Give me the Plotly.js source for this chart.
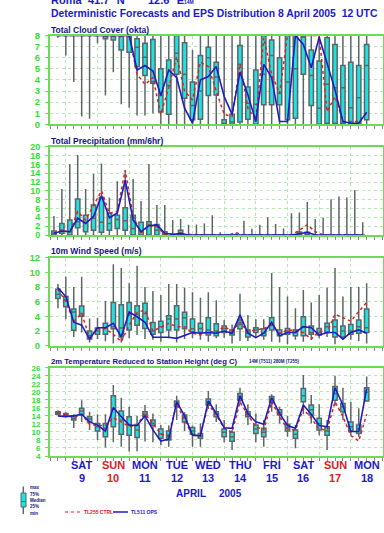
<!DOCTYPE html>
<html><head><meta charset="utf-8">
<script src="https://cdn.plot.ly/plotly-3.0.1.min.js"></script>
<style>html,body{margin:0;padding:0;background:#fff}#c{width:384px;height:533px}</style>
</head><body><div id="c"></div>
<script>
// ---- DATA (steps +6h .. +240h from 8 April 2005 12 UTC) ----
const cloudMax = [8,8,8,8,8,8,8,8,8,8, 8,8,8,8,8,8,8,6.7,8,8, 8,8,8,8,8,8,8,8,8,8, 8,8,8,8,8,8,8,8,8,8];
const cloudQ3  = [8,8,8,8,8,8,8,8,8,8, 7.7,7.3,7.65,5.0,5.8,8,7.35,3.8,6.2,6.95, 5.6,0.4,0.9,7.1,3.35,4.9,8,7.6,6.0,8, 8,8,6.7,5.7,7.8,7.2,5.3,5.6,5.3,7.2];
const cloudMed = [8,8,8,8,8,8,8,8,8,8, 6.95,6.05,3.85,2.6,3.5,6.4,4.5,1.7,3.0,6.0, 4.25,0,0.2,5.4,1.9,1.8,4.5,6.2,2.8,3.8, 5.0,7.85,4.4,1.45,3.6,3.3,3.3,1.5,2.4,5.3];
const cloudQ1  = [8,8,8,8,8,8,7.7,7.6,6.7,6.5, 5.2,4.4,3.7,1.1,0.9,4.5,2.35,0.4,0.45,2.6, 2.65,0,0,0.2,0.45,0,1.75,1.75,1.75,0.4, 0.55,4.5,1.7,0,0.1,0.1,0.1,0.1,0.1,0.4];
const cloudMin = [7.8,6.2,3.8,0.7,0.5,7.3,2.6,4.7,1.8,1.5, 0.8,0.8,1.0,0,0,0,0,0,0,0, 0,0,0,0,0,0,0,0,0,0, 0,0,0,0,0,0,0,0,0,0];
const cloudOps = [8,8,8,8,8,8,8,8,8,8, 4.9,5.3,4.8,2.6,4.9,4.2,1.45,0.1,4.0,4.3, 5.2,2.5,0.9,4.7,2.65,0.25,5.4,4.2,0.25,0.25, 8,7.2,5.1,7.85,5.5,3.1,0.25,0.1,0.1,1.1];
const cloudCtrl= [8,8,8,8,8,8,8,8,8,8, 4.5,3.6,4.2,0.9,3.3,6.1,3.0,2.2,5.6,5.2, 3.0,0.9,0.7,5.4,1.45,0.4,7.8,4.5,2.8,8, 8,8,8,8,1.15,2.5,0.25,0.25,0.25,1.0];

const precMax = [4.3,10.4,16,18.1,10.4,13.8,16.2,8.5,12.2,14.5, 12.7,7.7,16.1,6.8,6.8,3.4,3.6,2.3,2.4,2.6, 4.5,0.6,0,0.5,3.2,1.4,2.3,4.0,2.5,1.5, 4.9,5.1,7.5,3.6,3.9,8.1,8.7,8.5,10.2,2.9];
const precQ3  = [0.9,2.6,3.4,8.15,4.5,6.8,8.5,4.9,4.5,6.2, 4.5,2.9,3.0,2.4,0.75,0,1.1,0,0,0, 0,0,0,0,0,0,0,0,0,0, 0,0.7,0.6,0,0,0,0,0,0,0];
const precMed = [0.4,1.1,0.75,3.0,2.9,3.8,2.9,2.6,3.5,3.2, 1.5,0.75,2.4,1.1,0.15,0,0.5,0,0,0, 0,0,0,0,0,0,0,0,0,0, 0,0.2,0.1,0,0,0,0,0,0,0];
const precQ1  = [0,0.4,0,1.65,0.75,1.1,0.6,1.1,1.5,1.1, 0,0,0,0,0,0,0.15,0,0,0, 0,0,0,0,0,0,0,0,0,0, 0,0,0,0,0,0,0,0,0,0];
const precMin = [0,0,0,0,0,0,0,0,0,0, 0,0,0,0,0,0,0,0,0,0, 0,0,0,0,0,0,0,0,0,0, 0,0,0,0,0,0,0,0,0,0];
const precOps = [0.4,0.9,0.75,3.8,2.6,4.2,8.9,3.9,5.0,12.4, 3.4,0.75,2.1,2.3,0.4,0.15,0.3,0,0,0, 0,0,0,0,0,0,0,0,0,0, 0,0.3,0.6,0,0,0,0,0,0,0];
const precCtrl= [0.4,1.1,0.6,5.3,3.4,6.8,10.0,4.9,5.4,14.7, 4.2,0.5,2.1,1.9,0.15,0.15,0.15,0,0,0, 0,0,0,0.5,0,0,0,0,0,0, 0,1.1,2.3,0.75,0,0,0,0,0,0];

const windMax = [8.4,9.4,8.0,9.4,3.7,3.8,6.1,11.1,10.6,8.5, 10.9,8.0,7.45,6.9,8.4,8.4,7.9,7.3,6.55,7.3, 6.2,3.5,2.9,7.1,4.2,3.6,3.6,9.9,8.0,6.7, 5.1,7.6,5.9,6.9,7.9,10.6,6.7,8.0,8.0,8.5];
const windQ3  = [7.7,6.7,5.0,5.4,2.0,2.4,3.05,5.9,5.6,5.9, 5.45,5.8,3.15,3.35,4.1,5.45,4.55,3.65,3.05,3.8, 3.0,2.7,2.15,3.5,2.15,2.45,2.3,3.8,2.15,2.35, 2.15,3.95,2.7,2.35,3.05,3.5,2.7,2.9,3.5,5.0];
const windMed = [7.0,6.2,4.6,4.4,1.4,2.0,2.4,2.6,2.4,4.2, 4.3,4.4,2.0,2.6,3.65,3.65,3.8,2.3,2.35,2.15, 2.0,2.35,1.8,2.9,1.7,2.15,1.7,2.8,1.7,2.0, 1.8,2.6,1.8,1.8,2.6,2.6,2.0,2.0,2.6,2.45];
const windQ1  = [6.45,5.3,2.1,4.0,0.9,1.55,1.55,2.3,1.2,2.15, 2.8,2.35,1.55,1.8,2.15,2.15,2.3,1.9,1.8,1.45, 1.35,1.8,1.45,2.3,1.2,1.8,1.35,2.15,1.35,1.55, 1.35,1.35,1.55,1.45,1.8,1.2,1.2,1.55,1.7,1.8];
const windMin = [5.1,3.6,1.2,1.8,0.45,0.9,0.6,0.3,0.45,1.0, 1.45,0.9,0.8,0.55,1.0,0.45,0.9,1.0,0.8,0.55, 1.0,1.1,0.3,0.65,0.65,1.2,0.8,0.55,0.45,0.2, 0.8,0.55,0.8,1.0,1.2,0.2,0.8,0.8,0.65,0.3];
const windOps = [7.9,6.7,3.2,2.8,0.9,2.45,2.45,3.05,1.2,4.6, 3.95,3.2,1.15,1.15,1.15,1.0,1.45,1.8,1.7,1.8, 1.7,2.0,1.7,4.2,1.7,1.1,1.7,3.2,1.35,1.8, 1.8,2.6,2.45,1.45,1.8,1.8,0.9,1.8,2.15,1.7];
const windCtrl= [7.7,6.0,3.3,4.4,1.1,2.3,2.3,1.55,0.55,2.8, 4.55,4.85,2.0,2.5,3.05,2.6,2.6,1.7,1.45,2.0, 1.8,2.6,2.0,3.2,1.9,2.15,2.35,2.8,1.7,2.1, 2.1,1.8,0.9,2.0,1.8,4.3,3.8,3.35,4.65,5.9];

const tempMax = [15.4,14.9,14.4,17.9,15.0,14.4,14.4,21.7,18.5,16.3, 14.0,16.7,14.6,11.7,11.6,19.0,14.9,11.6,12.1,20.2, 16.9,13.0,10.5,21.0,16.9,14.6,13.0,19.4,16.3,14.0, 11.7,24.2,19.2,16.9,13.0,24.0,21.0,17.5,15.9,23.8];
const tempQ3  = [15.0,14.6,14.0,15.9,13.8,12.1,12.1,19.0,15.2,13.8, 11.7,15.0,13.0,10.7,10.2,17.7,14.2,11.1,9.6,18.2, 15.0,10.7,9.9,19.6,15.0,11.7,10.9,18.8,15.5,11.9, 10.5,20.8,16.7,13.4,11.3,21.3,17.1,12.5,11.7,21.0];
const tempMed = [14.7,14.3,13.4,15.2,13.2,11.3,10.9,15.7,13.0,11.7, 10.5,14.4,12.1,9.5,8.8,16.9,13.5,10.2,9.0,17.5, 14.4,9.9,8.8,18.8,14.4,10.7,9.9,18.2,14.8,11.1, 9.4,19.0,15.5,12.1,10.2,19.6,16.3,11.3,10.7,19.9];
const tempQ1  = [14.4,14.0,13.0,14.2,12.5,10.2,8.8,11.3,9.4,9.2, 8.6,13.8,11.6,8.4,8.0,16.3,12.5,9.4,8.4,16.7, 13.8,8.8,7.7,17.9,13.8,9.6,8.8,17.4,14.2,10.2, 8.4,17.5,14.2,10.5,9.2,17.9,15.0,10.2,9.6,17.7];
const tempMin = [14.2,13.8,11.0,12.5,10.5,8.0,6.1,7.4,6.3,5.1, 5.2,7.6,7.4,6.7,6.3,13.0,10.2,6.3,6.3,15.7, 12.5,7.4,5.5,16.9,11.7,7.4,6.3,15.0,12.1,8.8, 5.9,14.4,12.1,9.2,5.5,16.5,13.0,9.2,8.8,17.5];
const tempOps = [14.0,13.8,14.0,14.4,12.5,11.7,10.2,16.1,13.8,11.7, 11.6,14.0,10.5,7.7,8.2,17.5,14.0,9.2,9.0,17.7, 14.6,11.05,10.9,19.0,14.6,12.5,11.9,18.5,14.6,11.6, 10.9,16.7,14.4,11.6,11.3,21.0,16.7,10.1,10.1,20.8];
const tempCtrl= [14.9,14.4,13.5,14.4,11.9,11.6,11.6,13.5,12.5,11.3, 11.7,14.6,12.1,9.4,9.1,17.0,13.0,9.1,9.2,16.9, 14.2,10.9,9.9,17.5,14.2,11.3,10.5,17.5,13.8,10.7, 10.5,15.7,13.4,10.7,10.5,17.5,13.8,9.1,7.7,14.4];

const dayNames = ['SAT','SUN','MON','TUE','WED','THU','FRI','SAT','SUN','MON'];
const dayNums  = ['9','10','11','12','13','14','15','16','17','18'];
const dayHours = [24,48,72,96,120,144,168,192,216,240];

// ---- drawing ----
const W=384,H=533;
const px=x=>x/W, py=y=>1-y/H;
const steps = cloudMax.map((_,k)=>6*(k+1));
const precSteps = steps.map(h=>h-3);
const GREEN='#33dd33', FRAME='#6ddc55', GRID='#b4e8b4', NAVY='#14148c', BLUE='#1a1acc', RED='#e02020';
const FONT='Liberation Sans, Arial, sans-serif';

function boxTrace(xs,mn,q1,md,q3,mx,ax){
  return {type:'box', x:xs, lowerfence:mn, q1:q1, median:md, q3:q3, upperfence:mx,
    xaxis:'x'+ax, yaxis:'y'+ax, fillcolor:'#1ee2e2', line:{color:'#5d6666',width:1.5},
    whiskerwidth:0, width:3.3, boxpoints:false, hoverinfo:'skip', showlegend:false};
}
function lineTrace(xs,ys,ax,ctrl){
  return {type:'scatter', mode:'lines', x:xs, y:ys, xaxis:'x'+ax, yaxis:'y'+ax,
    line: ctrl?{color:RED,width:1.5,dash:'dot'}:{color:'#1c1cc8',width:1.6},
    hoverinfo:'skip', showlegend:false};
}
const data=[
  boxTrace(steps,cloudMin,cloudQ1,cloudMed,cloudQ3,cloudMax,''),
  lineTrace(steps,cloudCtrl,'',true), lineTrace(steps,cloudOps,'',false),
  boxTrace(precSteps,precMin,precQ1,precMed,precQ3,precMax,'2'),
  lineTrace(precSteps,precCtrl,'2',true), lineTrace(precSteps,precOps,'2',false),
  boxTrace(steps,windMin,windQ1,windMed,windQ3,windMax,'3'),
  lineTrace(steps,windCtrl,'3',true), lineTrace(steps,windOps,'3',false),
  boxTrace(steps,tempMin,tempQ1,tempMed,tempQ3,tempMax,'4'),
  lineTrace(steps,tempCtrl,'4',true), lineTrace(steps,tempOps,'4',false),
];

const xdom=[px(50),px(382.5)];
function xax(anchor){
  return {domain:xdom, anchor:anchor, range:[0,252], tick0:12, dtick:24, showgrid:true,
    gridcolor:GRID, griddash:'dot', gridwidth:1, showticklabels:false, ticks:'outside', ticklen:3,
    tickcolor:'#888', showline:true, linecolor:FRAME, linewidth:2, mirror:true, zeroline:false,
    minor:{dtick:6, ticks:'outside', ticklen:3, tickcolor:'#888', showgrid:false}};
}
function yax(anchor,top,bot,r,dt,fs){
  return {domain:[py(bot),py(top)], anchor:anchor, range:r, dtick:dt, tick0:r[0], showgrid:true,
    gridcolor:GRID, griddash:'dot', gridwidth:1, ticks:'outside', ticklen:3, tickcolor:FRAME,
    ticklabelstandoff:3,
    tickfont:{family:FONT,size:fs,color:GREEN,weight:'bold'},
    showline:true, linecolor:FRAME, linewidth:2, mirror:true, zeroline:false, fixedrange:true};
}
const ann=[];
function T(text,x,y,size,color,xanchor,opts){
  ann.push(Object.assign({text:text,x:x,y:y,xref:'paper',yref:'paper',xanchor:xanchor||'left',yanchor:'middle',
    showarrow:false,font:{family:FONT,size:size,color:color,weight:'bold'}},opts||{}));
}
T('Roma',px(49),py(0),11,BLUE); T('41.7° N',px(86),py(0),11,BLUE); T('12.6° E',px(146),py(0),11,BLUE);
T('14M',px(182),py(2),5,BLUE);
T('Deterministic Forecasts and EPS Distribution 8 April 2005\u00a0 12 UTC',px(49),py(14),10.4,BLUE);
T('Total Cloud Cover (okta)',px(49),py(30),8.5,NAVY);
T('Total Precipitation (mm/6hr)',px(49),py(141),8.5,NAVY);
T('10m Wind Speed (m/s)',px(49),py(251),8.5,NAVY);
T('2m Temperature Reduced to Station Height (deg C)',px(49),py(361.5),7.7,NAVY);
T('14M (T511) 280M (T255)',px(247),py(362),4.5,NAVY);
dayHours.forEach((h,k)=>{
  const c = dayNames[k]==='SUN'?RED:BLUE;
  ann.push({text:dayNames[k],x:h,xref:'x4',y:py(465),yref:'paper',showarrow:false,xanchor:'center',yanchor:'middle',
    font:{family:FONT,size:11,color:c,weight:'bold'}});
  ann.push({text:dayNums[k],x:h,xref:'x4',y:py(477.5),yref:'paper',showarrow:false,xanchor:'center',yanchor:'middle',
    font:{family:FONT,size:11,color:c,weight:'bold'}});
});
T('APRIL',px(191),py(493),10,BLUE,'center'); T('2005',px(230),py(493),10,BLUE,'center');
// legend
T('max',px(28),py(487),4.5,NAVY); T('75%',px(28),py(494),4.5,NAVY); T('Median',px(28),py(500),4.5,NAVY);
T('25%',px(28),py(506),4.5,NAVY); T('min',px(28),py(513),4.5,NAVY);
T('TL255 CTRL',px(82),py(512),5,RED); T('TL511 OPS',px(129),py(512),5,BLUE);

const shapes=[
  {type:'line',xref:'paper',yref:'paper',x0:px(23.3),x1:px(23.3),y0:py(486.5),y1:py(514),line:{color:'#5d6666',width:1.5}},
  {type:'rect',xref:'paper',yref:'paper',x0:px(21),x1:px(26),y0:py(493),y1:py(507),fillcolor:'#1ee2e2',line:{color:'#5d6666',width:1}},
  {type:'line',xref:'paper',yref:'paper',x0:px(21),x1:px(26),y0:py(501.5),y1:py(501.5),line:{color:'#5d6666',width:1}},
  {type:'line',xref:'paper',yref:'paper',x0:px(65),x1:px(80),y0:py(512),y1:py(512),line:{color:RED,width:1.2,dash:'dot'}},
  {type:'line',xref:'paper',yref:'paper',x0:px(113),x1:px(128),y0:py(512),y1:py(512),line:{color:'#1c1cc8',width:1.5}},
];

const layout={width:W,height:H,margin:{l:0,r:0,t:0,b:0},paper_bgcolor:'#fff',plot_bgcolor:'#fff',
  showlegend:false, annotations:ann, shapes:shapes, boxmode:'overlay',
  xaxis:xax('y'), xaxis2:xax('y2'), xaxis3:xax('y3'), xaxis4:xax('y4'),
  yaxis:yax('x',35.5,124.3,[0,8],1,9.5),
  yaxis2:yax('x2',146.7,235,[0,20],2,9),
  yaxis3:yax('x3',257.7,345.7,[0,12],2,9.5),
  yaxis4:yax('x4',367.7,456,[4,26],2,8)
};
Plotly.newPlot('c',data,layout,{staticPlot:true,displayModeBar:false});
</script></body></html>
